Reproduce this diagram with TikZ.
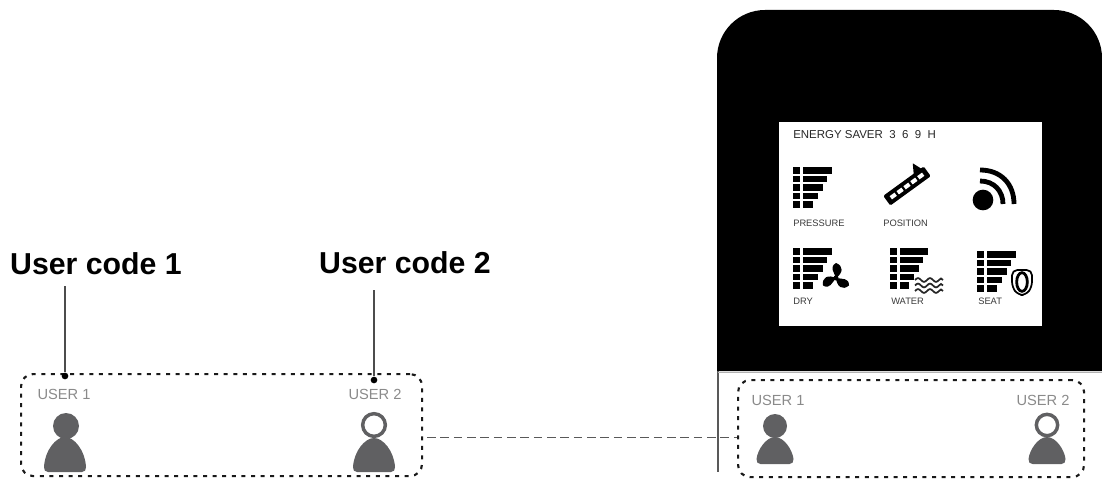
\documentclass[tikz,border=0pt]{standalone}
\usepackage{fontspec}
\usetikzlibrary{shapes.geometric}
\setmainfont{Liberation Sans}
\definecolor{persongray}{HTML}{606062}
\definecolor{labelgray}{HTML}{8A8A8A}
\definecolor{iconlabel}{HTML}{3A3A3A}
\newcommand{\fs}[1]{\fontsize{#1}{#1}\selectfont}
% \eqbars{x}{y}{right end}
\newcommand{\eqbars}[3]{%
  \foreach \i/\w in {0/0,1/5,2/9,3/14,4/19}{
    \fill[black] (#1,{#2+\i*8.6}) rectangle ++(6.5,6.5);
    \fill[black] ({#1+10},{#2+\i*8.6}) rectangle ({#3-\w},{#2+\i*8.6+6.5});
  }}
% \bodyshape{cx}{top}{bottom}{halfwidth}
\newcommand{\bodyshape}[4]{%
  \fill[persongray] ({#1-#4+4},#3) .. controls ({#1-#4+1},#3) and ({#1-#4},{#3-2}) .. ({#1-#4},{#3-5})
    .. controls ({#1-#4+1},{#2+13}) and ({#1-9},#2) .. (#1,#2)
    .. controls ({#1+9},#2) and ({#1+#4-1},{#2+13}) .. ({#1+#4},{#3-5})
    .. controls ({#1+#4},{#3-2}) and ({#1+#4-1},#3) .. ({#1+#4-4},#3) -- cycle;}
\tikzset{
  x=0.75pt,y=-0.75pt,
  dotbox/.style={draw=black!90,line width=1.6pt,dash pattern=on 3pt off 4.2pt,rounded corners=9pt,inner sep=0pt,anchor=north west},
  userlabel/.style={text=labelgray,font=\fs{11},inner sep=0pt},
  codelabel/.style={text=black,font=\fs{22.7}\bfseries,inner sep=0pt},
  iconcap/.style={text=iconlabel,font=\fs{7},inner sep=0pt,anchor=west},
  leader/.style={draw=black!70,line width=0.8pt},
  enddot/.style={circle,fill=black,inner sep=0pt,minimum size=5pt},
  link/.style={draw=black!65,line width=0.75pt,dash pattern=on 6.5pt off 3.5pt},
  ringhead/.style={circle,draw=persongray,line width=2.6pt,fill=white,inner sep=0pt},
  solidhead/.style={circle,fill=persongray,inner sep=0pt}
}
\begin{document}
\begin{tikzpicture}
\useasboundingbox (0,0) rectangle (1102,478);
% device
\fill[black] (717,371) [rounded corners=36pt] -- (717,10) -- (1102,10) [sharp corners] -- (1102,371) -- cycle;
\draw[black!65,line width=1.4pt] (718,371) -- (718,472);
\draw[black!30,line width=0.6pt] (718,372) -- (1102,372);
\node[fill=white,anchor=north west,minimum width=197pt,minimum height=153pt,inner sep=0pt] (screen) at (779,122) {};
% screen text
\node[anchor=west,inner sep=0pt,text=black!85,font=\fs{8.6}] (title) at (793,135) {ENERGY SAVER\ \ 3\ \ 6\ \ 9\ \ H};
\node[iconcap] (l1) at (793,223) {PRESSURE};
\node[iconcap] (l2) at (883,223) {POSITION};
\node[iconcap] (l3) at (793,301) {DRY};
\node[iconcap] (l4) at (891,301) {WATER};
\node[iconcap] (l5) at (978,301) {SEAT};
% bars
\eqbars{793}{167}{832}
\eqbars{793}{248}{832}
\eqbars{890}{248}{928}
\eqbars{977}{251}{1016}
% position icon
\begin{scope}[shift={(907,186)},rotate=36]
  \fill[black,rounded corners=1pt] (-25,-6) rectangle (25,6);
  \foreach \p in {-17,-8.5,0,8.5,17}{\fill[white] (\p-3,-2) rectangle (\p+3,2);}
  \fill[black] (12,-5) -- (22,-5) -- (18,-15) -- cycle;
\end{scope}
% signal icon
\node[circle,fill=black,inner sep=0pt,minimum size=15.5pt] (sigdot) at (983,200) {};
\draw[black,line width=3.6pt] (980,181) .. controls (994,181) and (1003,191) .. (1003,204);
\draw[black,line width=3.6pt] (980,170) .. controls (1001,170) and (1014,184) .. (1014,204);
% fan icon
\begin{scope}[shift={(836,278)}]
  \foreach \a in {0,120,240}{
    \fill[black,rotate=\a] (0,0) .. controls (-2,-6) and (-7,-11) .. (0,-15) .. controls (8,-12) and (7,-5) .. (0,0) -- cycle;
  }
  \fill[black] (0,0) circle (2.5);
\end{scope}
% water icon
\foreach \yy in {280,285.5,291}{
  \draw[black!85,line width=1.3pt] (915,\yy)
    .. controls (917,\yy-2.5) and (919,\yy-2.5) .. (921,\yy)
    .. controls (923,\yy+2.5) and (925,\yy+2.5) .. (927,\yy)
    .. controls (929,\yy-2.5) and (931,\yy-2.5) .. (933,\yy)
    .. controls (935,\yy+2.5) and (937,\yy+2.5) .. (939,\yy)
    .. controls (940,\yy-2) and (942,\yy-2) .. (943,\yy);
}
% seat icon
\draw[black,line width=1.3pt,fill=white,rounded corners=4pt] (1012,270) -- (1032,270) -- (1032,287) -- (1026,295) -- (1018,295) -- (1012,287) -- cycle;
\node[ellipse,draw=black,line width=2.1pt,minimum width=8pt,minimum height=14pt,inner sep=0pt] (seatoval) at (1022,282) {};
% left group
\node[dotbox,minimum width=300.75pt,minimum height=76.5pt] (box1) at (20,373) {};
\node[dotbox,minimum width=259.5pt,minimum height=72.75pt] (box2) at (737,379) {};
\node[userlabel] (u1a) at (64,394) {USER 1};
\node[userlabel] (u1b) at (375,394) {USER 2};
\node[userlabel] (u2a) at (778,400) {USER 1};
\node[userlabel] (u2b) at (1043,400) {USER 2};
% persons
\node[solidhead,minimum size=19.5pt] (p1) at (66,426) {};
\bodyshape{65}{437}{472}{21}
\bodyshape{374}{438}{472}{21}
\node[ringhead,minimum size=17pt] (p2) at (374,425) {};
\node[solidhead,minimum size=18pt] (p3) at (775,426) {};
\bodyshape{775}{437}{464}{18.5}
\bodyshape{1047}{437}{464}{18.5}
\node[ringhead,minimum size=16pt] (p4) at (1047,425) {};
% callouts
\node[codelabel] (c1) at (96,264) {User code 1};
\node[codelabel] (c2) at (405,263) {User code 2};
\node[enddot] (e1) at (65,376) {};
\node[enddot] (e2) at (374,380) {};
\coordinate (s1) at (65,286);
\coordinate (s2) at (374,290);
\draw[leader] (s1) -- (e1);
\draw[leader] (s2) -- (e2);
% link between groups
\coordinate (ly) at (0,437);
\draw[link] ([xshift=3pt]box1.east |- ly) -- (box2.west |- ly);
\end{tikzpicture}
\end{document}
